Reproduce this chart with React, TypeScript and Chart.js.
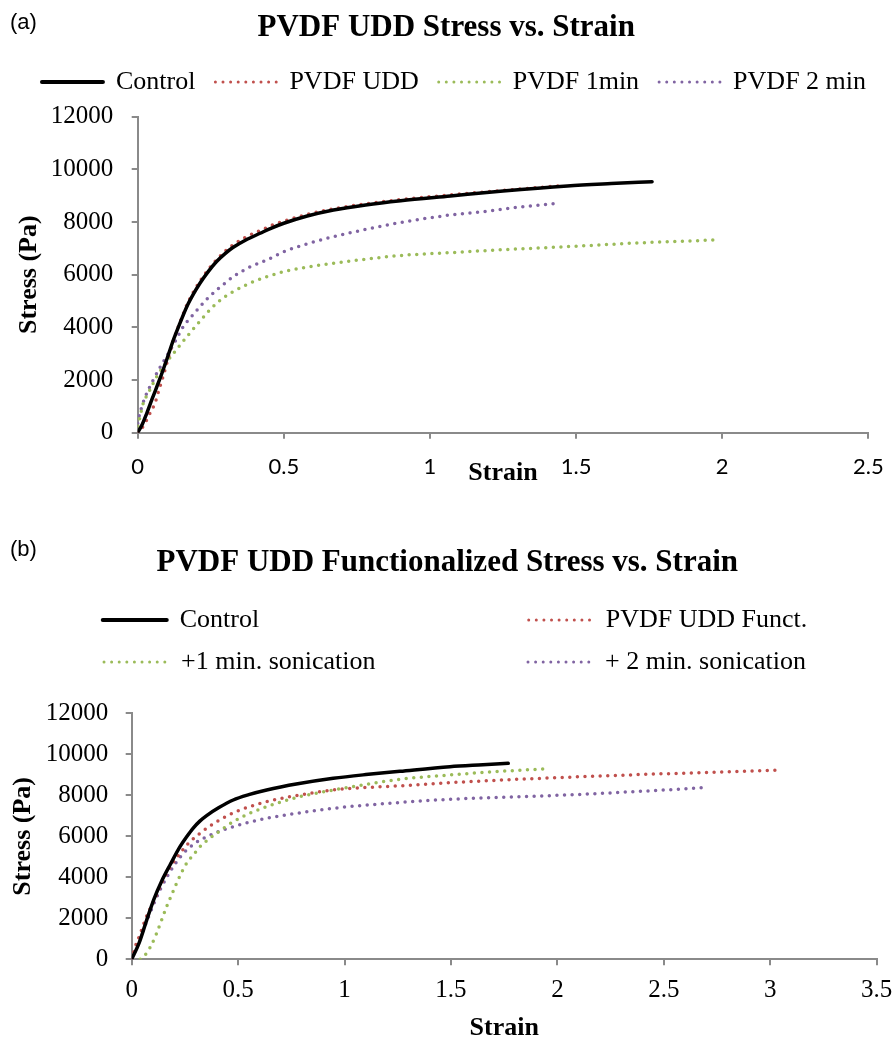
import React, { useEffect, useRef } from 'react';
import { Chart, registerables } from 'chart.js';

Chart.register(...registerables);

// ---------------- Chart (a) data ----------------
const aLabels = ['Control', 'PVDF UDD', 'PVDF 1min', 'PVDF 2 min'];
const aControlStrain = [0, 0.015, 0.031, 0.05, 0.076, 0.1, 0.122, 0.145, 0.168, 0.19, 0.213, 0.24, 0.27, 0.3, 0.327, 0.37, 0.419, 0.46, 0.5, 0.58, 0.67, 0.78, 0.9, 1.07, 1.25, 1.47, 1.62, 1.76];
const aControlStress = [0, 300, 737, 1300, 2050, 2800, 3520, 4170, 4785, 5250, 5674, 6100, 6500, 6810, 7040, 7320, 7573, 7780, 7953, 8230, 8458, 8650, 8810, 8990, 9180, 9370, 9460, 9533];
const aUddStrain = [0, 0.012, 0.025, 0.042, 0.059, 0.071, 0.09, 0.105, 0.122, 0.145, 0.168, 0.19, 0.213, 0.24, 0.27, 0.3, 0.327, 0.37, 0.42, 0.46, 0.5, 0.58, 0.67, 0.78, 0.9, 1.07, 1.25, 1.45];
const aUddStress = [0, 130, 357, 737, 1117, 1557, 2250, 2850, 3500, 4200, 4850, 5330, 5750, 6180, 6570, 6900, 7140, 7430, 7680, 7880, 8030, 8290, 8500, 8690, 8850, 9030, 9200, 9380];
const a1minStrain = [0, 0.008, 0.019, 0.036, 0.065, 0.099, 0.13, 0.156, 0.185, 0.213, 0.24, 0.27, 0.3, 0.327, 0.38, 0.442, 0.5, 0.58, 0.67, 0.78, 0.9, 1.07, 1.25, 1.47, 1.7, 1.98];
const a1minStress = [250, 608, 1117, 1497, 2127, 2680, 3120, 3480, 3870, 4230, 4580, 4914, 5170, 5355, 5660, 5925, 6115, 6290, 6433, 6590, 6730, 6838, 6950, 7064, 7200, 7320];
const a2minStrain = [0, 0.002, 0.014, 0.031, 0.053, 0.075, 0.099, 0.13, 0.156, 0.185, 0.213, 0.24, 0.27, 0.3, 0.327, 0.38, 0.442, 0.5, 0.58, 0.67, 0.78, 0.9, 1.07, 1.18, 1.3, 1.44];
const a2minStress = [350, 482, 988, 1497, 2000, 2450, 2900, 3500, 4026, 4420, 4785, 5110, 5420, 5690, 5925, 6270, 6560, 6874, 7170, 7444, 7720, 7980, 8268, 8393, 8560, 8711];
const aXTicks = [0, 0.5, 1, 1.5, 2, 2.5];

// ---------------- Chart (b) data ----------------
const bLabels = ['Control', 'PVDF UDD Funct.', '+1 min. sonication', '+ 2 min. sonication'];
const bControlStrain = [0, 0.035, 0.07, 0.105, 0.14, 0.18, 0.227, 0.26, 0.289, 0.32, 0.352, 0.41, 0.477, 0.55, 0.634, 0.78, 0.947, 1.1, 1.26, 1.495, 1.65, 1.769];
const bControlStress = [0, 800, 1900, 2950, 3800, 4600, 5493, 6000, 6400, 6740, 7010, 7400, 7771, 8030, 8259, 8560, 8829, 9010, 9170, 9395, 9490, 9561];
const bFunctStrain = [0, 0.016, 0.031, 0.047, 0.066, 0.09, 0.117, 0.14, 0.164, 0.195, 0.227, 0.27, 0.321, 0.36, 0.399, 0.45, 0.509, 0.634, 0.78, 0.947, 1.1, 1.26, 1.495, 1.75, 2.04, 2.3, 2.5, 2.75, 3.045];
const bFunctStress = [0, 600, 1000, 1450, 2000, 2550, 3150, 3700, 4195, 4720, 5171, 5700, 6146, 6450, 6712, 7010, 7283, 7688, 8000, 8259, 8380, 8460, 8615, 8750, 8878, 8980, 9050, 9130, 9234];
const b1minStrain = [0.04, 0.07, 0.095, 0.117, 0.14, 0.164, 0.19, 0.211, 0.235, 0.258, 0.29, 0.321, 0.36, 0.399, 0.477, 0.55, 0.634, 0.71, 0.79, 0.947, 1.1, 1.26, 1.495, 1.7, 1.94];
const b1minStress = [0, 300, 750, 1268, 1900, 2566, 3200, 3707, 4250, 4683, 5100, 5493, 5850, 6146, 6712, 7100, 7444, 7700, 7932, 8259, 8530, 8780, 8990, 9150, 9283];
const b2minStrain = [0, 0.011, 0.026, 0.042, 0.058, 0.073, 0.089, 0.105, 0.133, 0.165, 0.195, 0.225, 0.258, 0.3, 0.352, 0.41, 0.477, 0.55, 0.634, 0.78, 0.947, 1.1, 1.26, 1.495, 1.75, 2.04, 2.4, 2.69];
const b2minStress = [0, 320, 700, 1100, 1512, 1917, 2322, 2730, 3380, 4000, 4517, 4950, 5332, 5680, 5980, 6240, 6468, 6680, 6878, 7130, 7366, 7520, 7650, 7805, 7910, 8015, 8200, 8371];
const bXTicks = [0, 0.5, 1, 1.5, 2, 2.5, 3, 3.5];

const yTicks = [0, 2000, 4000, 6000, 8000, 10000, 12000];

const SERIF = "'Liberation Serif', 'Times New Roman', serif";
const SANS = "Lato, 'Open Sans', sans-serif";
const COLORS = ['#000000', '#c0504d', '#9bbb59', '#8064a2'];
const AXIS = '#8a8a8a';

const zip = (xs: number[], ys: number[]) => xs.map((x, i) => ({ x, y: ys[i] }));

function makeDatasets(labels: string[], series: [number[], number[]][]) {
  return series.map(([xs, ys], i) => {
    const solid = i === 0;
    return {
      label: labels[i],
      data: zip(xs, ys),
      borderColor: COLORS[i],
      backgroundColor: COLORS[i],
      borderWidth: solid ? 3.5 : 3.5,
      borderDash: solid ? [] : [0, 7.6],
      borderCapStyle: 'round',
      borderJoinStyle: 'round',
      pointRadius: 0,
      pointHoverRadius: 0,
      fill: false,
      cubicInterpolationMode: 'monotone',
    };
  });
}

function measure(text: string, font: string) {
  const ctx = document.createElement('canvas').getContext('2d')!;
  ctx.font = font;
  return ctx.measureText(text).width;
}

function padTo(text: string, width: number, font: string) {
  let t = text;
  const sp = measure(' ', font);
  while (measure(t, font) + sp / 2 < width) t += ' ';
  return t;
}

interface Geo {
  padL: number; padR: number; padB: number;
  areaRightGap: number; areaLeft: number; areaBottom: number; height: number;
  titleTop: number; titleBottom: number; spacer: number;
  legendPad: number; boxW: number;
  yTitlePad: number; yTickPad: number; xTickPad: number; xTitlePad: number;
  xMax: number; xTicks: number[];
  xTickFont: any;
}

function makeConfig(title: string, datasets: any[], legendTexts: string[], legendWidths: number[], g: Geo) {
  return {
    type: 'line',
    data: { datasets },
    options: {
      animation: false,
      responsive: false,
      devicePixelRatio: 1,
      events: [],
      layout: { padding: { left: g.padL, right: g.padR, top: 0, bottom: g.padB } },
      plugins: {
        tooltip: { enabled: false },
        title: {
          display: true,
          text: title,
          color: '#000',
          font: { family: SERIF, size: 31, weight: 'bold' },
          padding: { top: g.titleTop, bottom: g.titleBottom },
        },
        // invisible spacer between the legend and the plot area
        subtitle: {
          display: true,
          text: ' ',
          weight: 500,
          font: { size: 1 },
          padding: { top: 0, bottom: g.spacer - 1.2 },
        },
        legend: {
          display: true,
          position: 'top',
          align: 'center',
          labels: {
            usePointStyle: true,
            pointStyleWidth: g.boxW,
            padding: g.legendPad,
            color: '#000',
            font: { family: SERIF, size: 26 },
            generateLabels: (chart: any) =>
              chart.data.datasets.map((ds: any, i: number) => ({
                text: legendTexts[i],
                fillStyle: 'rgba(0,0,0,0)',
                strokeStyle: ds.borderColor,
                lineWidth: legendWidths[i],
                lineDash: ds.borderDash,
                lineCap: 'round',
                pointStyle: 'line',
                hidden: false,
                fontColor: '#000',
                datasetIndex: i,
              })),
          },
        },
      },
      scales: {
        x: {
          type: 'linear',
          min: 0,
          max: g.xMax,
          afterBuildTicks: (s: any) => { s.ticks = g.xTicks.map((v) => ({ value: v })); },
          afterFit: (s: any) => {
            s.height = g.height - g.padB - g.areaBottom;
            s.paddingRight = g.areaRightGap;
            s.paddingLeft = 0;
          },
          grid: { drawOnChartArea: false, drawTicks: true, tickLength: 6, color: AXIS, lineWidth: 2 },
          border: { display: true, color: AXIS, width: 2 },
          ticks: {
            color: '#000',
            font: g.xTickFont,
            padding: g.xTickPad,
            maxRotation: 0,
            autoSkip: false,
            callback: (v: any) => String(v),
          },
          title: {
            display: true,
            text: 'Strain',
            color: '#000',
            font: { family: SERIF, size: 26, weight: 'bold' },
            padding: { top: 0, bottom: g.xTitlePad },
          },
        },
        y: {
          type: 'linear',
          min: 0,
          max: 12000,
          afterBuildTicks: (s: any) => { s.ticks = yTicks.map((v) => ({ value: v })); },
          afterFit: (s: any) => { s.width = g.areaLeft - g.padL; s.paddingTop = 0; },
          grid: { drawOnChartArea: false, drawTicks: true, tickLength: 6, color: AXIS, lineWidth: 2 },
          border: { display: true, color: AXIS, width: 2 },
          ticks: {
            color: '#000',
            font: { family: SERIF, size: 25 },
            padding: g.yTickPad,
            autoSkip: false,
            callback: (v: any) => String(v),
          },
          title: {
            display: true,
            text: 'Stress (Pa)',
            color: '#000',
            font: { family: SERIF, size: 26, weight: 'bold' },
            padding: { top: g.yTitlePad, bottom: 0 },
          },
        },
      },
    },
  } as any;
}

const HA = 490;
const HB = 554;
const TOP_B = 490;

export default function App() {
  const refA = useRef<HTMLCanvasElement>(null);
  const refB = useRef<HTMLCanvasElement>(null);

  useEffect(() => {
    const dsA = makeDatasets(aLabels, [
      [aControlStrain, aControlStress],
      [aUddStrain, aUddStress],
      [a1minStrain, a1minStress],
      [a2minStrain, a2minStress],
    ]);
    const gA: Geo = {
      padL: 20, padR: 6, padB: 0,
      areaRightGap: 894 - 868.3, areaLeft: 137.7, areaBottom: 432.7, height: HA,
      titleTop: 9.4, titleBottom: 2.4, spacer: 116.7 - 105,
      legendPad: 20, boxW: 61,
      yTitlePad: 29 - 20 - 15.6, yTickPad: 18.4, xTickPad: 15, xTitlePad: 1.4,
      xMax: 2.5, xTicks: aXTicks,
      xTickFont: { family: SANS, size: 22 },
    };
    const chartA = new Chart(refA.current!, makeConfig('PVDF UDD Stress vs. Strain  ', dsA, aLabels, [4, 3, 3, 3], gA));

    const dsB = makeDatasets(bLabels, [
      [bControlStrain, bControlStress],
      [bFunctStrain, bFunctStress],
      [b1minStrain, b1minStress],
      [b2minStrain, b2minStress],
    ]);
    const legendFont = `26px ${SERIF}`;
    const boxWB = 64;
    const colW = 424 - 16 - boxWB - 13;
    const bTexts = [padTo(bLabels[0], colW, legendFont), bLabels[1], padTo(bLabels[2], colW, legendFont), bLabels[3]];
    const gB: Geo = {
      padL: 33.3, padR: 17.3, padB: 0,
      areaRightGap: 894 - 876.7, areaLeft: 131.7, areaBottom: 959.3 - TOP_B, height: HB,
      titleTop: 73 - 18.6, titleBottom: 101 - (73 - 18.6) - 37.2, spacer: 713.3 - TOP_B - 195,
      legendPad: 16, boxW: boxWB,
      yTitlePad: 23 - 33.3 - 15.6, yTickPad: 17.4, xTickPad: 9.7, xTitlePad: 0.4,
      xMax: 3.5, xTicks: bXTicks,
      xTickFont: { family: SERIF, size: 25 },
    };
    const chartB = new Chart(refB.current!, makeConfig('PVDF UDD Functionalized Stress vs. Strain  ', dsB, bTexts, [4, 3, 3, 3], gB));

    return () => {
      chartA.destroy();
      chartB.destroy();
    };
  }, []);

  const tag: React.CSSProperties = {
    position: 'absolute',
    left: 10,
    fontFamily: "'Liberation Sans', Arial, sans-serif",
    fontSize: 22,
    lineHeight: '22px',
    color: '#000',
  };

  return (
    <div style={{ position: 'fixed', left: 0, top: 0, width: 894, height: 1039, overflow: 'hidden', background: '#fff' }}>
      <canvas ref={refA} width={894} height={HA} style={{ position: 'absolute', left: 0, top: 0, width: 894, height: HA }} />
      <canvas ref={refB} width={894} height={HB} style={{ position: 'absolute', left: 0, top: TOP_B, width: 894, height: HB }} />
      <div style={{ ...tag, top: 11 }}>(a)</div>
      <div style={{ ...tag, top: 538 }}>(b)</div>
    </div>
  );
}
